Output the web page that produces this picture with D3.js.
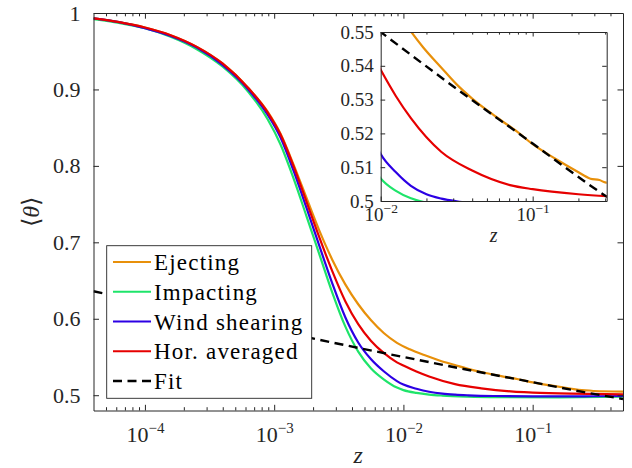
<!DOCTYPE html>
<html>
<head>
<meta charset="utf-8">
<script src="https://cdn.jsdelivr.net/npm/d3@7"></script>
<style>
  body { margin: 0; background: #fff; }
  svg { display: block; }
</style>
</head>
<body>
<svg id="svgx" width="632" height="468"></svg>
<script>
// ---- data ----
var seriesNames = ["Ejecting", "Impacting", "Wind shearing", "Hor. averaged", "Fit"];
var seriesColors = ["#e8900a", "#1ee46a", "#2c00e4", "#e60000", "#000000"];

// z values of the read points, theta per series
var zEject = [4e-5, 6.3e-5, 1e-4, 1.58e-4, 2.5e-4, 3.98e-4, 6.3e-4, 8.9e-4, 1.12e-3, 1.41e-3, 1.78e-3, 2.24e-3, 2.82e-3, 3.55e-3, 4.47e-3, 5.62e-3, 7.08e-3, 8.91e-3, 0.0112, 0.0145, 0.019, 0.025, 0.0316, 0.04, 0.057, 0.079, 0.1, 0.141, 0.195, 0.24, 0.275, 0.3, 0.5];
var thEject = [0.993, 0.988, 0.981, 0.971, 0.956, 0.934, 0.902, 0.871, 0.842, 0.802, 0.758, 0.715, 0.677, 0.645, 0.619, 0.598, 0.581, 0.5685, 0.5600, 0.5525, 0.5455, 0.5395, 0.5345, 0.5303, 0.5250, 0.5205, 0.5168, 0.5125, 0.5088, 0.5066, 0.5062, 0.5055, 0.5047];

var zImpact = [4e-5, 6.3e-5, 1e-4, 1.58e-4, 2.5e-4, 3.98e-4, 6.3e-4, 8.9e-4, 1.12e-3, 1.41e-3, 1.78e-3, 2.24e-3, 2.82e-3, 3.55e-3, 4.47e-3, 5.62e-3, 7.08e-3, 8.91e-3, 0.01, 0.0126, 0.0158, 0.02, 0.0316, 0.063, 0.158, 0.5];
var thImpact = [0.992, 0.987, 0.980, 0.969, 0.953, 0.930, 0.897, 0.861, 0.828, 0.784, 0.734, 0.684, 0.634, 0.590, 0.557, 0.535, 0.5205, 0.5100, 0.5067, 0.5030, 0.5008, 0.4995, 0.4982, 0.4975, 0.4972, 0.4980];

var zWind = [4e-5, 6.3e-5, 1e-4, 1.58e-4, 2.5e-4, 3.98e-4, 6.3e-4, 8.9e-4, 1.12e-3, 1.41e-3, 1.78e-3, 2.24e-3, 2.82e-3, 3.55e-3, 4.47e-3, 5.62e-3, 7.08e-3, 8.91e-3, 0.01, 0.0126, 0.0158, 0.02, 0.0251, 0.0316, 0.05, 0.1, 0.25, 0.5];
var thWind = [0.993, 0.988, 0.980, 0.970, 0.955, 0.932, 0.900, 0.867, 0.837, 0.794, 0.745, 0.695, 0.646, 0.602, 0.569, 0.547, 0.531, 0.5185, 0.5139, 0.5085, 0.5045, 0.5020, 0.5007, 0.4999, 0.4990, 0.4986, 0.4986, 0.4990];

var zHor = [4e-5, 6.3e-5, 1e-4, 1.58e-4, 2.5e-4, 3.98e-4, 6.3e-4, 8.9e-4, 1.12e-3, 1.41e-3, 1.78e-3, 2.24e-3, 2.82e-3, 3.55e-3, 4.47e-3, 5.62e-3, 7.08e-3, 8.91e-3, 0.01, 0.0126, 0.0158, 0.0251, 0.04, 0.071, 0.1, 0.2, 0.5];
var thHor = [0.993, 0.988, 0.981, 0.971, 0.956, 0.934, 0.902, 0.870, 0.841, 0.800, 0.753, 0.706, 0.662, 0.623, 0.593, 0.571, 0.555, 0.543, 0.5388, 0.531, 0.5245, 0.5145, 0.5090, 0.5047, 0.5035, 0.5020, 0.5010];

var zFit = [4e-5, 1e-4, 3.2e-4, 1e-3, 3.2e-3, 0.01, 0.032, 0.1, 0.25, 0.5];
var thFit = [0.636, 0.622, 0.603, 0.585, 0.567, 0.550, 0.533, 0.517, 0.504, 0.495];

var xMajor = [1e-4, 1e-3, 1e-2, 1e-1];
var xMajorExp = ["\u22124", "\u22123", "\u22122", "\u22121"];
var yTicks = [0.5, 0.6, 0.7, 0.8, 0.9, 1];
var yTickLabels = ["0.5", "0.6", "0.7", "0.8", "0.9", "1"];

var ixMajor = [1e-2, 1e-1];
var ixMajorExp = ["\u22122", "\u22121"];
var iyTicks = [0.5, 0.51, 0.52, 0.53, 0.54, 0.55];
var iyTickLabels = ["0.5", "0.51", "0.52", "0.53", "0.54", "0.55"];

// ---- layout ----
var fontF = "'Liberation Serif', 'Times New Roman', serif";
var axCol = "#262626";
var m = {l: 93.5, r: 623, t: 13, b: 410.5};
var ins = {l: 380.7, r: 606.7, t: 32, b: 201};

var svg = d3.select("#svgx");

var x = d3.scaleLog().domain([4e-5, 0.5]).range([m.l, m.r]);
var y = d3.scaleLinear().domain([0.48, 1]).range([m.b, m.t]);
var ix = d3.scaleLog().domain([0.01, 0.307]).range([ins.l, ins.r]);
var iy = d3.scaleLinear().domain([0.5, 0.55]).range([ins.b, ins.t]);

function minorTicks(dom) {
  var out = [];
  for (var k = -6; k <= 1; k++) {
    for (var j = 2; j <= 9; j++) {
      var v = j * Math.pow(10, k);
      if (v > dom[0] * 1.0001 && v < dom[1] * 0.9999) out.push(v);
    }
  }
  return out;
}

var series = [
  {z: zEject, th: thEject},
  {z: zImpact, th: thImpact},
  {z: zWind, th: thWind},
  {z: zHor, th: thHor},
  {z: zFit, th: thFit, dash: true}
];

var defs = svg.append("defs");
defs.append("clipPath").attr("id", "clipMain").append("rect")
  .attr("x", m.l).attr("y", m.t).attr("width", m.r - m.l).attr("height", m.b - m.t);
defs.append("clipPath").attr("id", "clipIns").append("rect")
  .attr("x", ins.l).attr("y", ins.t).attr("width", ins.r - ins.l).attr("height", ins.b - ins.t);

// ---- main curves ----
var line = d3.line().x(d => x(d[0])).y(d => y(d[1])).curve(d3.curveMonotoneX);
var mainG = svg.append("g").attr("clip-path", "url(#clipMain)");
series.forEach((s, i) => {
  mainG.append("path")
    .datum(d3.zip(s.z, s.th))
    .attr("d", line)
    .attr("fill", "none")
    .attr("stroke", seriesColors[i])
    .attr("stroke-width", s.dash ? 2.4 : 2.2)
    .attr("stroke-dasharray", s.dash ? "9,5.5" : null);
});

// ---- axes helper ----
function styleAxis(g) {
  g.selectAll("path.domain").attr("stroke", axCol).attr("stroke-width", 1);
  g.selectAll(".tick line").attr("stroke", axCol).attr("stroke-width", 1);
  g.selectAll("text").attr("fill", axCol).style("font-family", fontF);
}

function powerLabels(g, exps, size, expSize, shift) {
  g.selectAll(".tick text").each(function(d, i) {
    var t = d3.select(this).text("");
    t.style("font-size", size + "px");
    t.append("tspan").text("10");
    t.append("tspan").attr("dy", -shift).style("font-size", expSize + "px").text(exps[i]);
  });
}

// main x bottom
var gxb = svg.append("g").attr("transform", `translate(0,${m.b})`)
  .call(d3.axisBottom(x).tickValues(xMajor).tickSizeInner(-5.7).tickSizeOuter(0).tickPadding(16));
powerLabels(gxb, xMajorExp, 22, 15, 9.5);
styleAxis(gxb);
svg.append("g").attr("transform", `translate(0,${m.b})`)
  .call(d3.axisBottom(x).tickValues(minorTicks(x.domain())).tickSize(-3.3).tickFormat(""))
  .call(g => g.select(".domain").remove()).call(styleAxis);

// main x top
svg.append("g").attr("transform", `translate(0,${m.t})`)
  .call(d3.axisTop(x).tickValues(xMajor).tickSizeInner(-5.7).tickSizeOuter(0).tickFormat(""))
  .call(styleAxis);
svg.append("g").attr("transform", `translate(0,${m.t})`)
  .call(d3.axisTop(x).tickValues(minorTicks(x.domain())).tickSize(-3.3).tickFormat(""))
  .call(g => g.select(".domain").remove()).call(styleAxis);

// main y left
var gyl = svg.append("g").attr("transform", `translate(${m.l},0)`)
  .call(d3.axisLeft(y).tickValues(yTicks).tickSizeInner(-5.5).tickSizeOuter(0).tickPadding(13)
    .tickFormat((d, i) => yTickLabels[i]));
gyl.selectAll(".tick text").style("font-size", "22px");
styleAxis(gyl);

// main y right
svg.append("g").attr("transform", `translate(${m.r},0)`)
  .call(d3.axisRight(y).tickValues(yTicks).tickSizeInner(-5.5).tickSizeOuter(0).tickFormat(""))
  .call(styleAxis);

// axis labels
svg.append("text")
  .attr("x", (m.l + m.r) / 2).attr("y", 463)
  .attr("text-anchor", "middle")
  .style("font-family", fontF).style("font-style", "italic").style("font-size", "24px")
  .attr("fill", axCol).text("z");

svg.append("text")
  .attr("transform", `translate(31,${(m.t + m.b) / 2}) rotate(-90)`)
  .attr("text-anchor", "middle").attr("dy", "0.35em")
  .style("font-family", fontF).style("font-size", "24px").attr("fill", axCol)
  .call(t => {
    t.append("tspan").text("\u27E8");
    t.append("tspan").style("font-style", "italic").text("\u03B8");
    t.append("tspan").text("\u27E9");
  });

// ---- legend ----
var leg = svg.append("g");
leg.append("rect")
  .attr("x", 106.7).attr("y", 245.7).attr("width", 205).attr("height", 152.6)
  .attr("fill", "#fff").attr("stroke", axCol).attr("stroke-width", 0.9);
seriesNames.forEach((name, i) => {
  var yy = 262 + i * 29.75;
  leg.append("line")
    .attr("x1", 113).attr("x2", 151).attr("y1", yy).attr("y2", yy)
    .attr("stroke", seriesColors[i])
    .attr("stroke-width", series[i].dash ? 2.4 : 2.2)
    .attr("stroke-dasharray", series[i].dash ? "9,5.5" : null);
  leg.append("text")
    .attr("x", 154).attr("y", yy).attr("dy", "0.35em")
    .style("font-family", fontF).style("font-size", "23px")
    .style("letter-spacing", "1.2px")
    .attr("fill", "#000").text(name);
});

// ---- inset ----
svg.append("rect")
  .attr("x", ins.l).attr("y", ins.t).attr("width", ins.r - ins.l).attr("height", ins.b - ins.t)
  .attr("fill", "#fff");

var iline = d3.line().x(d => ix(d[0])).y(d => iy(d[1])).curve(d3.curveMonotoneX);
var insG = svg.append("g").attr("clip-path", "url(#clipIns)");
series.forEach((s, i) => {
  insG.append("path")
    .datum(d3.zip(s.z, s.th))
    .attr("d", iline)
    .attr("fill", "none")
    .attr("stroke", seriesColors[i])
    .attr("stroke-width", s.dash ? 2.4 : 2.2)
    .attr("stroke-dasharray", s.dash ? "9,5.5" : null);
});

var gixb = svg.append("g").attr("transform", `translate(0,${ins.b})`)
  .call(d3.axisBottom(ix).tickValues(ixMajor).tickSizeInner(-4.5).tickSizeOuter(0).tickPadding(6.5));
powerLabels(gixb, ixMajorExp, 19, 13.5, 7.5);
styleAxis(gixb);
svg.append("g").attr("transform", `translate(0,${ins.b})`)
  .call(d3.axisBottom(ix).tickValues(minorTicks(ix.domain())).tickSize(-2.6).tickFormat(""))
  .call(g => g.select(".domain").remove()).call(styleAxis);
svg.append("g").attr("transform", `translate(0,${ins.t})`)
  .call(d3.axisTop(ix).tickValues(ixMajor).tickSizeInner(-4.5).tickSizeOuter(0).tickFormat(""))
  .call(styleAxis);
svg.append("g").attr("transform", `translate(0,${ins.t})`)
  .call(d3.axisTop(ix).tickValues(minorTicks(ix.domain())).tickSize(-2.6).tickFormat(""))
  .call(g => g.select(".domain").remove()).call(styleAxis);

var giyl = svg.append("g").attr("transform", `translate(${ins.l},0)`)
  .call(d3.axisLeft(iy).tickValues(iyTicks).tickSizeInner(-4.5).tickSizeOuter(0).tickPadding(7)
    .tickFormat((d, i) => iyTickLabels[i]));
giyl.selectAll(".tick text").style("font-size", "19px");
styleAxis(giyl);
svg.append("g").attr("transform", `translate(${ins.r},0)`)
  .call(d3.axisRight(iy).tickValues(iyTicks).tickSizeInner(-4.5).tickSizeOuter(0).tickFormat(""))
  .call(styleAxis);

svg.append("text")
  .attr("x", (ins.l + ins.r) / 2).attr("y", 242)
  .attr("text-anchor", "middle")
  .style("font-family", fontF).style("font-style", "italic").style("font-size", "20px")
  .attr("fill", axCol).text("z");
</script>
</body>
</html>
